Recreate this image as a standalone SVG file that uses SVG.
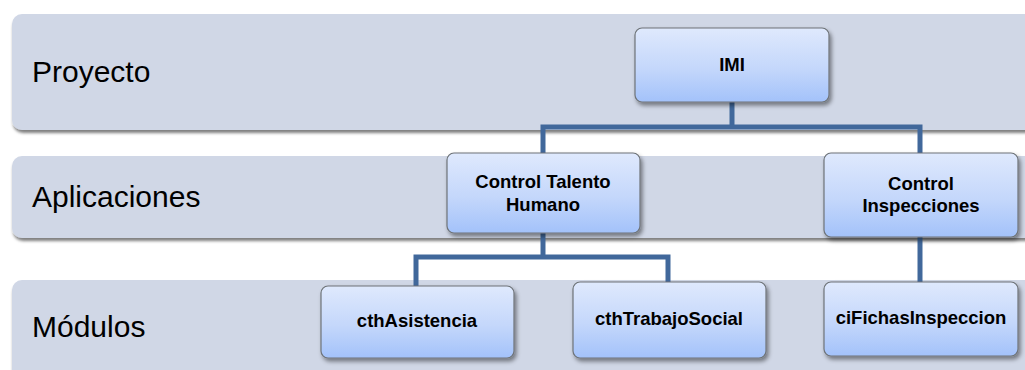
<svg xmlns="http://www.w3.org/2000/svg" width="1025" height="370" viewBox="0 0 1025 370">
  <defs>
    <linearGradient id="boxFill" x1="0" y1="0" x2="0" y2="1">
      <stop offset="0" stop-color="#dfe9fd"/>
      <stop offset="0.55" stop-color="#c4d7fb"/>
      <stop offset="1" stop-color="#a3c2fa"/>
    </linearGradient>
    <filter id="bandShadow" x="-5%" y="-20%" width="110%" height="140%">
      <feDropShadow dx="1" dy="3" stdDeviation="1.8" flood-color="#000" flood-opacity="0.5"/>
    </filter>
    <filter id="boxShadow" x="-10%" y="-20%" width="125%" height="145%">
      <feDropShadow dx="2" dy="3" stdDeviation="2" flood-color="#000" flood-opacity="0.45"/>
    </filter>
    <style>
      .band { fill: #d0d7e6; filter: url(#bandShadow); }
      .band-label { font-family: "Liberation Sans", Arial, sans-serif; font-size: 30px; fill: #000; }
      .box { fill: url(#boxFill); stroke: #6e7378; stroke-width: 1.2; filter: url(#boxShadow); }
      .box-label { font-family: "Liberation Sans", Arial, sans-serif; font-size: 18.5px; font-weight: bold; fill: #000; text-anchor: middle; }
      .link { fill: none; stroke: #41689b; stroke-width: 5; stroke-linejoin: miter; }
    </style>
  </defs>

  <rect width="1025" height="370" fill="#ffffff"/>

  <!-- level bands -->
  <g id="band-proyecto">
    <rect class="band" x="12" y="14" width="1030" height="116" rx="10"/>
    <text class="band-label" x="32" y="82">Proyecto</text>
  </g>
  <g id="band-aplicaciones">
    <rect class="band" x="12" y="156" width="1030" height="82" rx="10"/>
    <text class="band-label" x="32" y="207">Aplicaciones</text>
  </g>
  <g id="band-modulos">
    <rect class="band" x="12" y="280" width="1030" height="110" rx="10"/>
    <text class="band-label" x="32" y="337">Módulos</text>
  </g>

  <!-- connectors -->
  <g id="connectors">
    <path class="link" d="M732 102 V127"/>
    <path class="link" d="M543 153 V127 H920 V153"/>
    <path class="link" d="M543 233 V257"/>
    <path class="link" d="M416 286 V257 H668 V282"/>
    <path class="link" d="M920 237 V282"/>
  </g>

  <!-- nodes -->
  <g id="node-imi">
    <rect class="box" x="635" y="28" width="194" height="74" rx="7"/>
    <text class="box-label" x="732" y="71" font-size="20">IMI</text>
  </g>
  <g id="node-control-talento-humano">
    <rect class="box" x="447" y="153" width="193" height="80" rx="7"/>
    <text class="box-label" x="543" y="188">Control Talento</text>
    <text class="box-label" x="543" y="211">Humano</text>
  </g>
  <g id="node-control-inspecciones">
    <rect class="box" x="824" y="153" width="194" height="84" rx="7"/>
    <text class="box-label" x="921" y="190">Control</text>
    <text class="box-label" x="921" y="212">Inspecciones</text>
  </g>
  <g id="node-cthasistencia">
    <rect class="box" x="321" y="286" width="193" height="72" rx="7"/>
    <text class="box-label" x="417" y="327">cthAsistencia</text>
  </g>
  <g id="node-cthtrabajosocial">
    <rect class="box" x="573" y="282" width="193" height="76" rx="7"/>
    <text class="box-label" x="669" y="325">cthTrabajoSocial</text>
  </g>
  <g id="node-cifichasinspeccion">
    <rect class="box" x="824" y="282" width="194" height="74" rx="7"/>
    <text class="box-label" x="921" y="324">ciFichasInspeccion</text>
  </g>
</svg>
